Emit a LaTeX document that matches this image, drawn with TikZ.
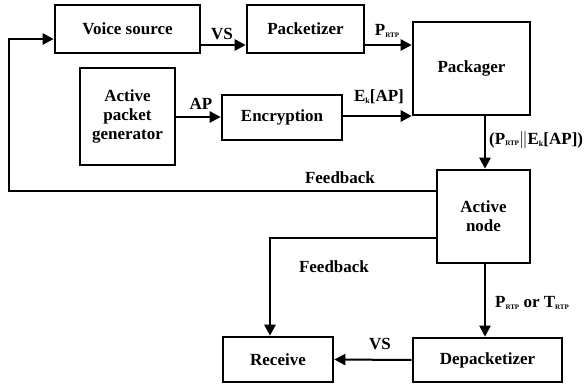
\documentclass[tikz,border=0pt]{standalone}
\usepackage{fontspec}
\setmainfont{Liberation Serif}
\usetikzlibrary{arrows.meta}
\newcommand{\rtp}{\raisebox{-1.5pt}{\fontsize{7}{7}\selectfont RTP}}
\newcommand{\ksub}{\raisebox{-2pt}{\fontsize{8}{8}\selectfont k}}
\begin{document}
\begin{tikzpicture}[x=1pt,y=-1pt,
  box/.style={draw,line width=2.6pt,inner sep=0pt,align=center,
    font=\fontsize{17}{19}\selectfont\bfseries},
  lbl/.style={font=\fontsize{17}{19}\selectfont\bfseries,inner sep=0pt},
  arr/.style={line width=2.6pt,-{Triangle[length=11pt,width=11pt]}},
  thinarr/.style={line width=2pt,-{Triangle[length=11pt,width=11pt]}}]
\useasboundingbox (0,0) rectangle (588,385);

% blocks
\node[box,minimum width=145pt,minimum height=48pt] (vs) at (127.5,29) {Voice source};
\node[box,minimum width=117pt,minimum height=48pt] (pk) at (305.5,29) {Packetizer};
\node[box,minimum width=117pt,minimum height=93pt] (pg) at (471.5,68.5) {Packager};
\node[box,minimum width=95pt,minimum height=97pt] (apg) at (127.5,116.5) {Active\\packet\\generator};
\node[box,minimum width=120pt,minimum height=45pt] (enc) at (282,117.5) {Encryption};
\node[box,minimum width=93pt,minimum height=93pt] (an) at (483.5,216.5) {Active\\node};
\node[box,minimum width=110pt,minimum height=45pt] (rec) at (278,359.5) {Receive};
\node[box,minimum width=149pt,minimum height=44pt] (dep) at (487.5,360) {Depacketizer};

% corner points of the feedback paths
\coordinate (fbl) at (9,191);
\coordinate (fbt) at (9,39);
\coordinate (rcv) at (270,238);
\coordinate (pgc) at (413,116);

% connectors
\draw[arr] (vs.east |- 0,45) -- (pk.west |- 0,45);
\draw[arr] (pk.east |- 0,45) -- (pg.west |- 0,45);
\draw[arr] (apg.east |- 0,117) -- (enc.west |- 0,117);
\draw[arr] (enc.east |- pgc) -- (pg.west |- pgc);
\draw[arr] (pg.south -| 485,0) -- (an.north -| 485,0);
\draw[arr] (an.west |- fbl) -- (fbl) -- (fbt) -- (vs.west |- fbt);
\draw[arr] (an.west |- rcv) -- (rcv) -- (rec.north -| rcv);
\draw[thinarr] (an.south -| 485,0) -- (dep.north -| 485,0);
\draw[thinarr] (dep.west) -- (rec.east);

% labels
\node[lbl] (lvs1) at (222,34) {VS};
\node[lbl] (lprtp) at (387,31) {P\rtp};
\node[lbl] (lap) at (201,104) {AP};
\node[lbl] (lek) at (379,97) {E\ksub[AP]};
\node[lbl,anchor=west] (lpack) at (489,140) {(P\rtp$\|$E\ksub[AP])};
\node[lbl] (lfb1) at (340,178) {Feedback};
\node[lbl] (lfb2) at (334,267) {Feedback};
\node[lbl] (lor) at (532,303) {P\rtp{} or T\rtp};
\node[lbl] (lvs2) at (380,344) {VS};
\end{tikzpicture}
\end{document}
